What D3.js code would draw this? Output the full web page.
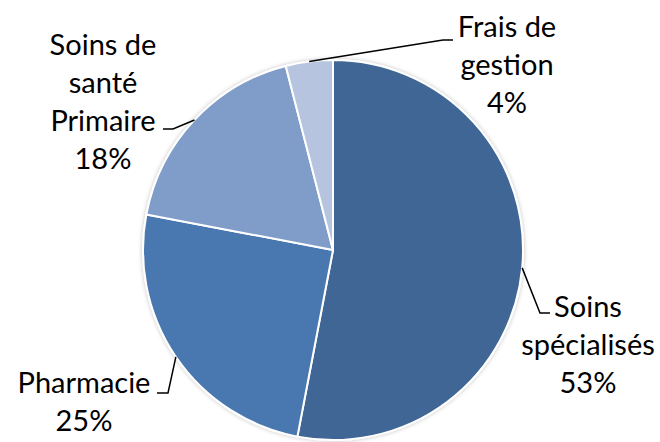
<!DOCTYPE html>
<html>
<head>
<meta charset="utf-8">
<script src="https://cdn.jsdelivr.net/npm/d3@7"></script>
<style>
  body { margin: 0; background: #fff; }
  svg text { font-family: Lato, "Open Sans", sans-serif; fill: #000; }
</style>
</head>
<body>
<div id="chart"></div>
<script>
// données du graphique
const categories = ["Soins spécialisés", "Pharmacie", "Soins de santé Primaire", "Frais de gestion"];
const valeurs = [53, 25, 18, 4];
const couleurs = ["#3F6696", "#4A77AF", "#7F9DC8", "#B7C4DF"];

// lignes des étiquettes (texte découpé comme sur l'image)
const etiquettes = [
  ["Soins", "spécialisés", "53%"],
  ["Pharmacie", "25%"],
  ["Soins de", "santé", "Primaire", "18%"],
  ["Frais de", "gestion", "4%"],
];

// position des étiquettes + coude des lignes de rappel
const placement = [
  { x: 588, y: 307, coude: [540, 313], fin: [550, 313] },
  { x: 84, y: 383, coude: [168, 393], fin: [157, 393] },
  { x: 103, y: 45, coude: [173, 129], fin: [163, 129] },
  { x: 507, y: 27, coude: [443, 40], fin: [453, 40] },
];

const width = 660;
const height = 442;
const cx = 333;
const cy = 250;
const rayon = 190;
const interligne = 38;

const svg = d3
  .select("#chart")
  .append("svg")
  .attr("width", width)
  .attr("height", height);

const defs = svg.append("defs");
const filtre = defs
  .append("filter")
  .attr("id", "ombre")
  .attr("x", "-10%")
  .attr("y", "-10%")
  .attr("width", "120%")
  .attr("height", "120%");
filtre
  .append("feDropShadow")
  .attr("dx", 0)
  .attr("dy", 0)
  .attr("stdDeviation", 2)
  .attr("flood-color", "#000")
  .attr("flood-opacity", 0.25);

const pie = d3.pie().sort(null).value((d) => d);
const arcs = pie(valeurs);
const arc = d3.arc().innerRadius(0).outerRadius(rayon);

const g = svg.append("g").attr("transform", `translate(${cx},${cy})`);

g.append("g")
  .attr("filter", "url(#ombre)")
  .selectAll("path")
  .data(arcs)
  .enter()
  .append("path")
  .attr("d", arc)
  .attr("fill", (d, i) => couleurs[i])
  .attr("stroke", "#fff")
  .attr("stroke-width", 2)
  .attr("stroke-linejoin", "round");

// lignes de rappel : du milieu de l'arc vers l'étiquette
svg
  .append("g")
  .selectAll("polyline")
  .data(arcs)
  .enter()
  .append("polyline")
  .attr("fill", "none")
  .attr("stroke", "#000")
  .attr("stroke-width", 1.5)
  .attr("points", (d, i) => {
    const a = (d.startAngle + d.endAngle) / 2;
    const x0 = cx + rayon * Math.sin(a);
    const y0 = cy - rayon * Math.cos(a);
    const p = placement[i];
    return [[x0, y0], p.coude, p.fin].map((q) => q.join(",")).join(" ");
  });

const labels = svg
  .append("g")
  .selectAll("text")
  .data(etiquettes)
  .enter()
  .append("text")
  .attr("text-anchor", "middle")
  .attr("font-size", 29)
  .attr("x", (d, i) => placement[i].x)
  .attr("y", (d, i) => placement[i].y);

labels
  .selectAll("tspan")
  .data((d, i) => d.map((t) => ({ t, i })))
  .enter()
  .append("tspan")
  .attr("x", (d) => placement[d.i].x)
  .attr("y", (d, j) => placement[d.i].y + j * interligne)
  .attr("dy", "0.35em")
  .text((d) => d.t);
</script>
</body>
</html>
